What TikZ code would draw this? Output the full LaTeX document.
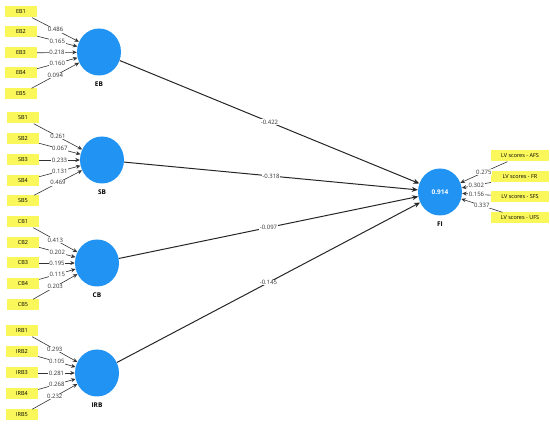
\documentclass[tikz,border=0pt]{standalone}
\usepackage{fontspec}
\setmainfont{Open Sans}
\usetikzlibrary{positioning, arrows.meta, shapes.geometric}
\definecolor{latentblue}{RGB}{33,148,243}
\definecolor{itemyellow}{RGB}{250,247,90}
\definecolor{linegray}{RGB}{50,50,50}

\tikzset{
  item/.style={rectangle, fill=itemyellow, minimum width=32pt, minimum height=11pt, inner sep=0pt, font=\fontsize{5.5}{6}\selectfont},
  lvitem/.style={item, minimum width=58pt},
  latent/.style={ellipse, fill=latentblue, minimum width=44pt, minimum height=47pt, inner sep=0pt, text=white, font=\fontsize{6.5}{7}\selectfont\bfseries},
  latentname/.style={font=\fontsize{6.5}{7}\selectfont\bfseries, inner sep=1pt},
  loading/.style={draw=linegray, line width=0.6pt, -{Stealth[length=4.5pt,width=4pt]}},
  effect/.style={draw=black!85, line width=1pt, -{Stealth[length=6pt,width=5pt]}},
  weight/.style={fill=white, inner sep=0.6pt, font=\fontsize{6}{6.5}\selectfont, text=linegray}
}

\begin{document}
\begin{tikzpicture}[x=1pt, y=-1pt]
\useasboundingbox (0,0) rectangle (550,425);

% latent variables
\node[latent] (eb) at (99,52) {};
\node[latent] (sb) at (102,160) {};
\node[latent] (cb) at (97,263) {};
\node[latent] (irb) at (97,373) {};
\node[latent] (fi) at (440,192) {0.914};

\node[latentname, below=5pt of eb] (ebname) {EB};
\node[latentname, below=5pt of sb] (sbname) {SB};
\node[latentname, below=5pt of cb] (cbname) {CB};
\node[latentname, below=5pt of irb] (irbname) {IRB};
\node[latentname, below=5pt of fi] (finame) {FI};

% indicators
\node[item] (eb1) at (21,12) {EB1};
\node[item] (eb2) at (21,32) {EB2};
\node[item] (eb3) at (21,53) {EB3};
\node[item] (eb4) at (21,73) {EB4};
\node[item] (eb5) at (21,94) {EB5};

\node[item] (sb1) at (23,118) {SB1};
\node[item] (sb2) at (23,139) {SB2};
\node[item] (sb3) at (23,160) {SB3};
\node[item] (sb4) at (23,181) {SB4};
\node[item] (sb5) at (23,201) {SB5};

\node[item] (cb1) at (23,222) {CB1};
\node[item] (cb2) at (23,243) {CB2};
\node[item] (cb3) at (23,263) {CB3};
\node[item] (cb4) at (23,284) {CB4};
\node[item] (cb5) at (23,305) {CB5};

\node[item] (irb1) at (22,331) {IRB1};
\node[item] (irb2) at (22,352) {IRB2};
\node[item] (irb3) at (22,373) {IRB3};
\node[item] (irb4) at (22,394) {IRB4};
\node[item] (irb5) at (22,415) {IRB5};

\node[lvitem] (afs) at (520,156) {LV scores - AFS};
\node[lvitem] (fr) at (520,177) {LV scores - FR};
\node[lvitem] (sfs) at (520,197) {LV scores - SFS};
\node[lvitem] (ufs) at (520,218) {LV scores - UFS};

% loadings
\draw[loading] (eb1) -- node[weight] {0.486} (eb);
\draw[loading] (eb2) -- node[weight] {0.165} (eb);
\draw[loading] (eb3) -- node[weight] {0.218} (eb);
\draw[loading] (eb4) -- node[weight] {0.160} (eb);
\draw[loading] (eb5) -- node[weight] {0.094} (eb);

\draw[loading] (sb1) -- node[weight] {0.261} (sb);
\draw[loading] (sb2) -- node[weight] {0.067} (sb);
\draw[loading] (sb3) -- node[weight] {0.233} (sb);
\draw[loading] (sb4) -- node[weight] {0.131} (sb);
\draw[loading] (sb5) -- node[weight] {0.469} (sb);

\draw[loading] (cb1) -- node[weight] {0.413} (cb);
\draw[loading] (cb2) -- node[weight] {0.202} (cb);
\draw[loading] (cb3) -- node[weight] {0.195} (cb);
\draw[loading] (cb4) -- node[weight] {0.115} (cb);
\draw[loading] (cb5) -- node[weight] {0.203} (cb);

\draw[loading] (irb1) -- node[weight] {0.293} (irb);
\draw[loading] (irb2) -- node[weight] {0.105} (irb);
\draw[loading] (irb3) -- node[weight] {0.281} (irb);
\draw[loading] (irb4) -- node[weight] {0.268} (irb);
\draw[loading] (irb5) -- node[weight] {0.232} (irb);

\draw[loading] (afs) -- node[weight] {0.275} (fi);
\draw[loading] (fr) -- node[weight] {0.302} (fi);
\draw[loading] (sfs) -- node[weight] {0.156} (fi);
\draw[loading] (ufs) -- node[weight] {0.337} (fi);

% path coefficients
\draw[effect] (eb) -- node[weight] {-0.422} (fi);
\draw[effect] (sb) -- node[weight] {-0.318} (fi);
\draw[effect] (cb) -- node[weight] {-0.097} (fi);
\draw[effect] (irb) -- node[weight] {-0.145} (fi);

\end{tikzpicture}
\end{document}
